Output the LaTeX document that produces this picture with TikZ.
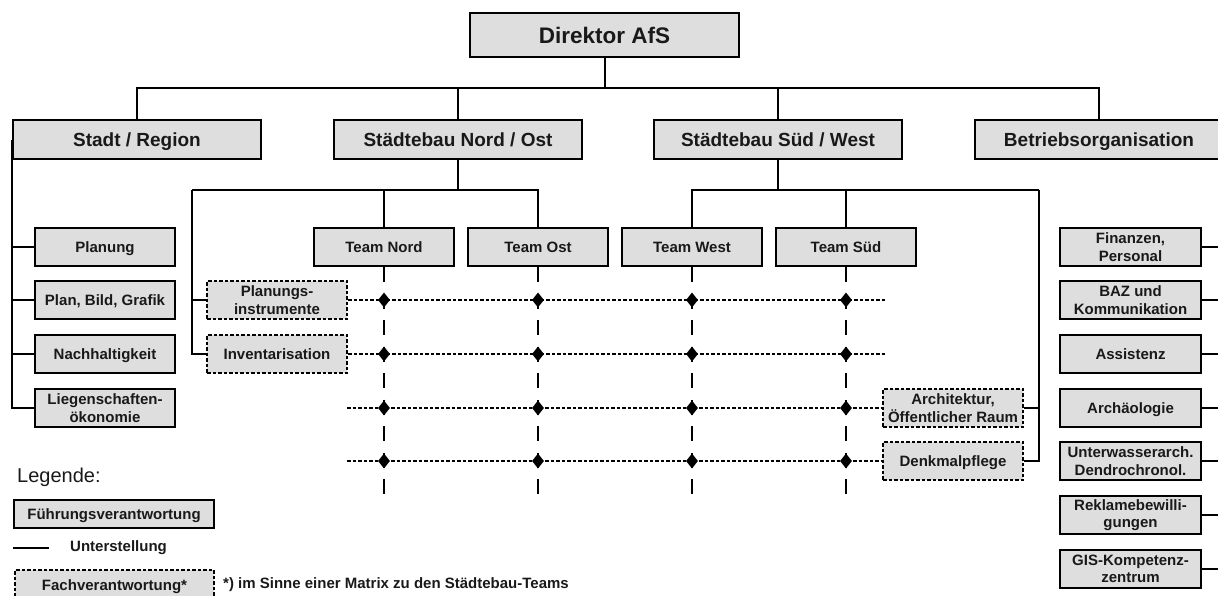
\documentclass[tikz,border=0pt]{standalone}
\usepackage{fontspec}
\setmainfont{Liberation Sans}
\usetikzlibrary{shapes.geometric}
\definecolor{boxgray}{RGB}{222,222,222}
\begin{document}
\begin{tikzpicture}[x=1pt,y=-1pt,
  box/.style={draw, line width=2.2pt, fill=boxgray, inner sep=0pt, align=center, text=black!90,
    font=\bfseries\fontsize{15}{17.3}\selectfont},
  one/.style={text height=10.7pt, text depth=0pt},
  smallbox/.style={box, minimum width=140pt, minimum height=38pt},
  bigbox/.style={box, text height=13.6pt, text depth=0pt, minimum width=248pt, minimum height=39pt, font=\bfseries\fontsize{19}{22}\selectfont},
  rightbox/.style={box, minimum width=141pt, minimum height=38pt},
  fachbox/.style={smallbox, dash pattern=on 3.5pt off 2pt},
  link/.style={line width=2pt},
  matrixline/.style={line width=2.2pt, dash pattern=on 3.5pt off 2pt},
  teamline/.style={line width=2.4pt, dash pattern=on 15pt off 11.5pt},
  crossdot/.style={diamond, fill=black, inner sep=0pt, minimum width=12pt, minimum height=15pt},
  plaintext/.style={inner sep=0pt, anchor=west, text=black!90, font=\bfseries\fontsize{15}{17}\selectfont},
]
\useasboundingbox (0,0) rectangle (1218,595);
\clip (0,0) rectangle (1218,595);

% top levels
\node[box, text height=16.1pt, text depth=0pt, minimum width=269pt, minimum height=44pt, font=\bfseries\fontsize{22.5}{26}\selectfont] (dir) at (604.5,35) {Direktor AfS};
\node[bigbox] (sr) at (137,139.5) {Stadt / Region};
\node[bigbox] (sno) at (458,139.5) {Städtebau Nord / Ost};
\node[bigbox] (ssw) at (778,139.5) {Städtebau Süd / West};
\node[bigbox] (bo) at (1099,139.5) {Betriebsorganisation};

\coordinate (bus) at (604.5,88);
\draw[link] (dir.south) -- (bus);
\draw[link] (sr.north) |- (bus);
\draw[link] (bo.north) |- (bus);
\draw[link] (sno.north) -- (sno.north |- bus);
\draw[link] (ssw.north) -- (ssw.north |- bus);

% Stadt / Region column
\node[smallbox, one] (pl) at (105,247) {Planung};
\node[smallbox, one] (pbg) at (105,300) {Plan, Bild, Grafik};
\node[smallbox, one] (nh) at (105,354) {Nachhaltigkeit};
\node[smallbox] (lo) at (105,408) {Liegenschaften-\\ökonomie};
\draw[link, line width=2.6pt] (sr.west) |- (lo.west);
\draw[link] (sr.west) |- (pl.west);
\draw[link] (sr.west) |- (pbg.west);
\draw[link] (sr.west) |- (nh.west);

% teams
\node[smallbox, one] (tn) at (384,247) {Team Nord};
\node[smallbox, one] (tos) at (538,247) {Team Ost};
\node[smallbox, one] (tw) at (692,247) {Team West};
\node[smallbox, one] (ts) at (846,247) {Team Süd};

% Fachverantwortung boxes
\node[fachbox] (pi) at (277,300) {Planungs-\\instrumente};
\node[fachbox, one] (inv) at (277,354) {Inventarisation};
\node[fachbox] (arch) at (953,408) {Architektur,\\Öffentlicher Raum};
\node[fachbox, one] (dp) at (953,461) {Denkmalpflege};

% Nord / Ost branch
\coordinate (nob) at (458,190);
\coordinate (noL) at (192,190);
\draw[link] (sno.south) -- (nob);
\draw[link] (tn.north) |- (nob);
\draw[link] (tos.north) |- (nob);
\draw[link] (nob) -- (noL);
\draw[link] (noL) |- (pi.west);
\draw[link] (noL) |- (inv.west);

% Süd / West branch
\coordinate (swb) at (778,190);
\coordinate (swR) at (1039,190);
\draw[link] (ssw.south) -- (swb);
\draw[link] (tw.north) |- (swb);
\draw[link] (ts.north) |- (swb);
\draw[link] (swb) -- (swR);
\draw[link] (swR) |- (arch.east);
\draw[link] (swR) |- (dp.east);

% Betriebsorganisation column
\node[rightbox] (fin) at (1130.5,247) {Finanzen,\\Personal};
\node[rightbox] (baz) at (1130.5,300) {BAZ und\\Kommunikation};
\node[rightbox, one] (ass) at (1130.5,354) {Assistenz};
\node[rightbox, one] (arc) at (1130.5,408) {Archäologie};
\node[rightbox] (uwa) at (1130.5,461) {Unterwasserarch.\\Dendrochronol.};
\node[rightbox] (rek) at (1130.5,515) {Reklamebewilli-\\gungen};
\node[rightbox] (gis) at (1130.5,569) {GIS-Kompetenz-\\zentrum};
\coordinate (boR) at (1226,139.5);
\foreach \n in {fin,baz,ass,arc,uwa,rek,gis}
  \draw[link] (\n.east) -- (\n.east -| boR);

% matrix rows
\coordinate (row1) at (0,300);
\coordinate (row2) at (0,354);
\coordinate (row3) at (0,408);
\coordinate (row4) at (0,461);
\coordinate (r1e) at (885,300);
\coordinate (r2e) at (885,354);
\coordinate (r3s) at (347,408);
\coordinate (r4s) at (347,461);
\coordinate (mb) at (0,497);
\draw[matrixline] (pi.east) -- (r1e);
\draw[matrixline] (inv.east) -- (r2e);
\draw[matrixline] (r3s) -- (arch.west);
\draw[matrixline] (r4s) -- (dp.west);
\foreach \t in {tn,tos,tw,ts}{
  \draw[teamline] (\t.south) -- (\t.south |- mb);
  \foreach \r in {1,2,3,4}
    \node[crossdot] (d\t\r) at (\t.south |- row\r) {};
}

% legend
\node[plaintext, font=\fontsize{20}{24}\selectfont] (leg) at (17,477) {Legende:};
\node[box, one, minimum width=200pt, minimum height=28pt] (lf) at (114,514) {Führungsverantwortung};
\coordinate (ul1) at (13,548);
\coordinate (ul2) at (49,548);
\draw[line width=1.4pt] (ul1) -- (ul2);
\node[plaintext] (lu) at (70,548) {Unterstellung};
\node[box, one, dash pattern=on 3.5pt off 2pt, minimum width=199pt, minimum height=30pt] (lfa) at (114.5,585) {Fachverantwortung*};
\node[plaintext] (fn) at (223,585) {*) im Sinne einer Matrix zu den Städtebau-Teams};
\end{tikzpicture}
\end{document}
